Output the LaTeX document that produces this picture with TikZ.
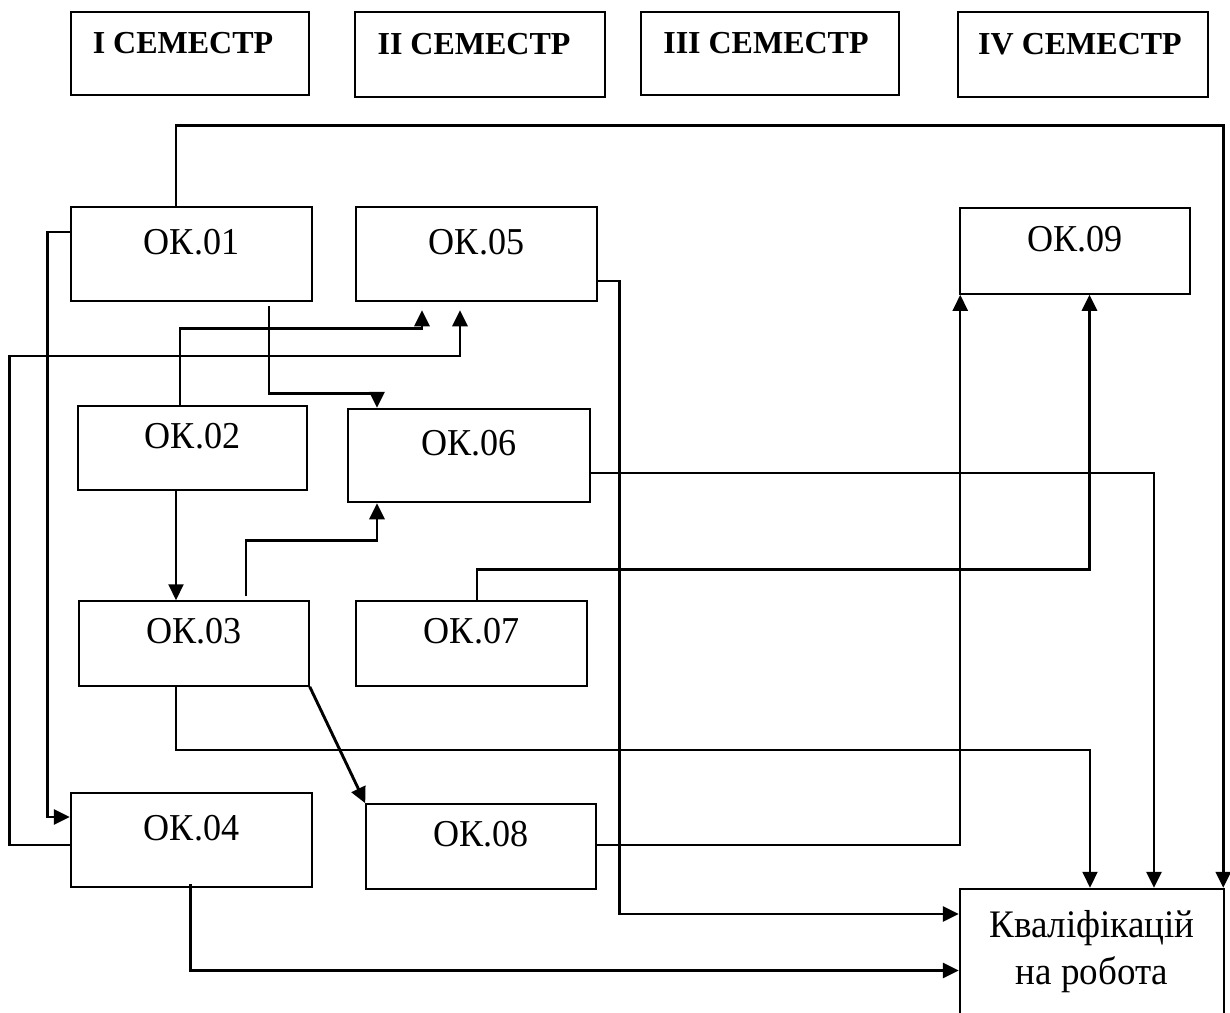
\documentclass[tikz,border=0pt]{standalone}
\usepackage{fontspec}
\usepackage{graphicx}
\setmainfont{Liberation Serif}
\usetikzlibrary{arrows.meta,calc}
\newcommand{\narrowtxt}[1]{\scalebox{0.95}[1]{#1}}
\begin{document}
\begin{tikzpicture}[x=1pt,y=-1pt,
  semboxx/.style={draw,line width=2.8pt,inner sep=0pt,font=\fontsize{32}{38}\selectfont\bfseries,text height=22pt,text depth=22pt},
  thickbox/.style={draw,line width=2.5pt,inner sep=0pt,font=\fontsize{38}{44}\selectfont,text height=25pt,text depth=25pt},
  thinbox/.style={draw,line width=1.5pt,inner sep=0pt,font=\fontsize{38}{44}\selectfont,text height=25pt,text depth=25pt},
  conn/.style={line width=2.9pt,-{Triangle[length=16pt,width=15pt]}},
  thinconn/.style={line width=2pt,-{Triangle[length=16pt,width=15pt]}}]
\useasboundingbox (0,0) rectangle (1230,1012);
% semester boxes
\node[semboxx,minimum width=238pt,minimum height=83pt] (s1) at (190,53.5) {\hspace*{-14pt}I СЕМЕСТР};
\node[semboxx,minimum width=250pt,minimum height=85pt] (s2) at (480,54.5) {\hspace*{-12pt}II СЕМЕСТР};
\node[semboxx,minimum width=258pt,minimum height=83pt] (s3) at (770,53.5) {\hspace*{-8pt}III СЕМЕСТР};
\node[semboxx,minimum width=250pt,minimum height=85pt] (s4) at (1083,54.5) {\hspace*{-6pt}IV СЕМЕСТР};
% course boxes
\node[thickbox,minimum width=241pt,minimum height=94pt] (ok1) at (191.5,254) {\narrowtxt{ОК.01}};
\node[thickbox,minimum width=241pt,minimum height=94pt] (ok5) at (476.5,254) {\narrowtxt{ОК.05}};
\node[thinbox,minimum width=230pt,minimum height=86pt] (ok9) at (1075,251) {\narrowtxt{ОК.09}};
\node[thinbox,minimum width=229pt,minimum height=84pt] (ok2) at (192.5,448) {\narrowtxt{ОК.02}};
\node[thickbox,minimum width=242pt,minimum height=93pt] (ok6) at (469,455.5) {\narrowtxt{ОК.06}};
\node[thinbox,minimum width=230pt,minimum height=85pt] (ok3) at (194,643.5) {\narrowtxt{ОК.03}};
\node[thinbox,minimum width=231pt,minimum height=85pt] (ok7) at (471.5,643.5) {\narrowtxt{ОК.07}};
\node[thickbox,minimum width=241pt,minimum height=94pt] (ok4) at (191.5,840) {\narrowtxt{ОК.04}};
\node[thinbox,minimum width=230pt,minimum height=85pt] (ok8) at (481,846.5) {\narrowtxt{ОК.08}};
\node[draw,line width=2.5pt,minimum width=264pt,minimum height=127pt,inner sep=0pt] (kv) at (1092,952.5) {};
\node[align=center,font=\fontsize{39}{47}\selectfont,inner sep=0pt] (kvt) at (1092,952) {\narrowtxt{Кваліфікацій}\\\narrowtxt{на робота}};
% connectors
\draw[conn] ([xshift=-15.5pt]ok1.north) -- ++(0,-80) -| ([xshift=-2pt]kv.north east);
\draw[conn] ([yshift=22pt]ok1.west) -- ++(-22,0) |- ([yshift=23pt]ok4.west);
\draw[conn] ([yshift=-5pt]ok4.west) -- ++(-60,0) -- ++(0,-489) -| ([xshift=-16.5pt,yshift=-8pt]ok5.south);
\draw[conn] ([xshift=-12.5pt]ok2.north) -- ++(0,-77) -| ([xshift=-54.5pt,yshift=-8pt]ok5.south);
\draw[conn] ([xshift=77.5pt,yshift=-4pt]ok1.south) -- ++(0,87) -| ([xshift=-92pt]ok6.north);
\draw[thinconn] ([xshift=-16.5pt]ok2.south) coordinate (a6) -- (a6 |- ok3.north);
\draw[conn] ([xshift=52pt,yshift=4pt]ok3.north) -- ++(0,-56) -| ([xshift=-92pt]ok6.south);
\draw[conn] ([xshift=5.5pt]ok7.north) -- ++(0,-31) -| ([xshift=14.5pt]ok9.south);
\draw[conn] ([yshift=-17.5pt]ok6.east) -| ([xshift=62pt]kv.north);
\draw[thinconn] ([xshift=-18pt]ok3.south) -- ++(0,63) -| ([xshift=-2pt]kv.north);
\draw[conn] (ok3.south east) -- (ok8.north west);
\draw[thinconn] ([yshift=1.5pt]ok8.east) -| ([xshift=1pt]ok9.south west);
\draw[conn] ([yshift=-27pt]ok5.east) -- ++(21,0) |- ([yshift=38.5pt]kv.west);
\draw[conn] ([xshift=-1pt,yshift=4pt]ok4.south) |- ([yshift=-18pt]kv.west);
\end{tikzpicture}
\end{document}
